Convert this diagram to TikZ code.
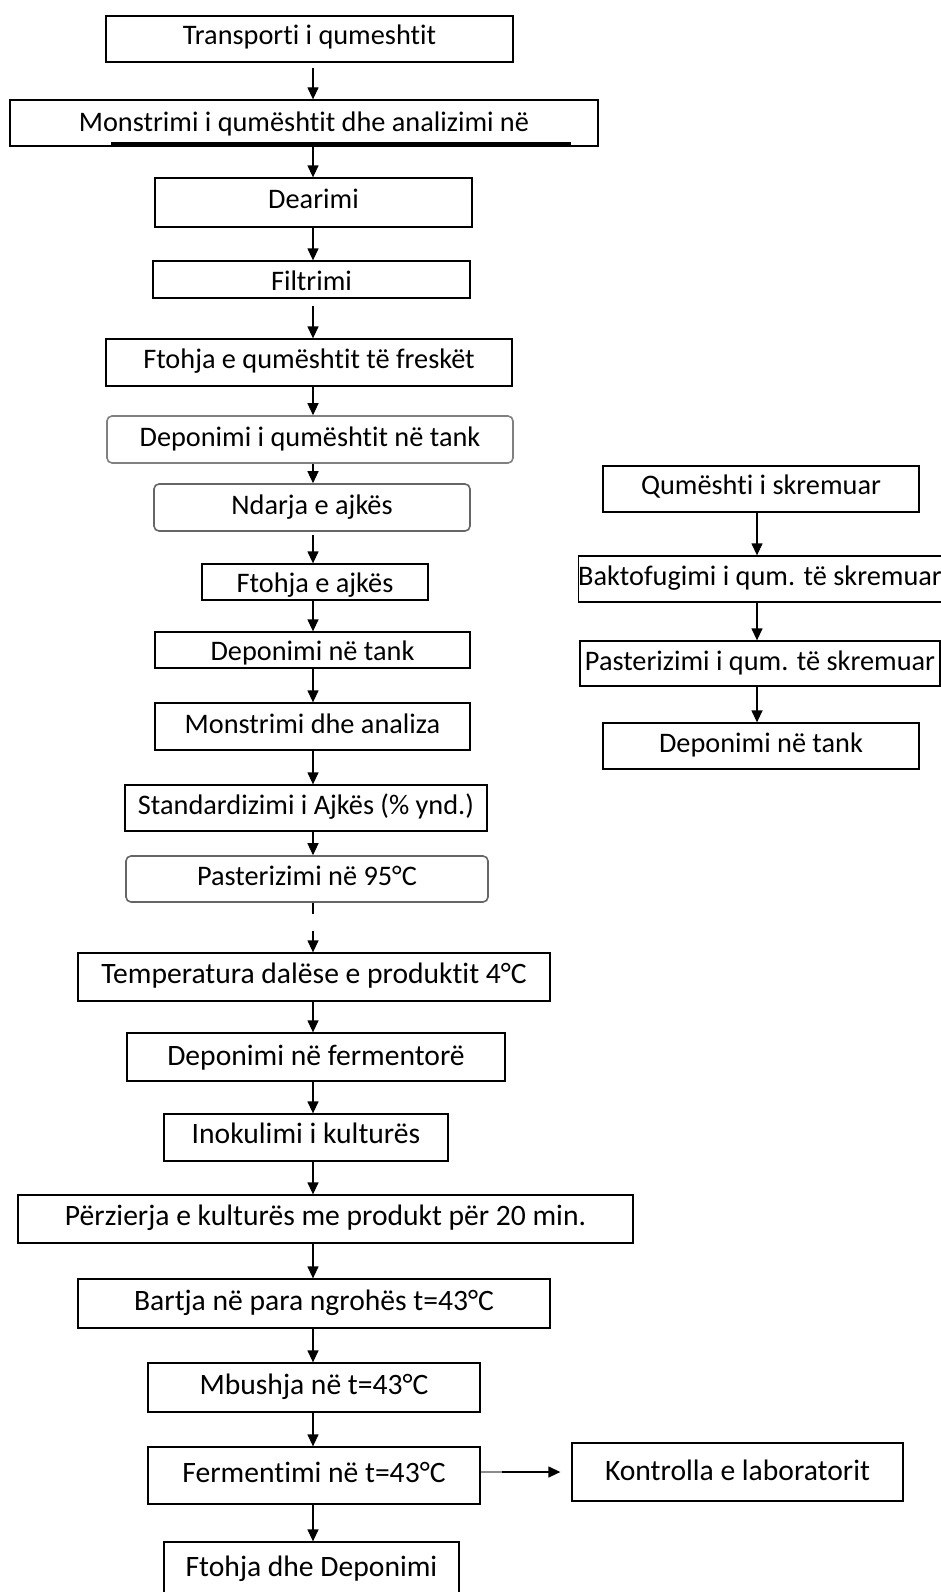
\documentclass[tikz,border=0pt]{standalone}
\usepackage{fontspec}
\setmainfont{Carlito}[Ligatures=NoCommon]
\usetikzlibrary{arrows.meta}

\begin{document}
\begin{tikzpicture}[x=1pt, y=-1pt, font=\fontsize{28.3}{31}\selectfont]

        % Setup the style for the boxes
        \tikzset{box style/.style={rectangle,
                                   draw=black,
                                   line width=1.3pt,
                                   inner sep=0pt,
                                   text height=19pt,
                                   text depth=6pt},
                 round style/.style={box style,
                                     rounded corners=5pt,
                                     line width=1.6pt,
                                     draw=black!60},
                 low style/.style={box style,
                                   font=\fontsize{29.6}{32}\selectfont}}

        \path[use as bounding box, fill=white] (0, 0) rectangle (941, 1592);
        \clip (0, 0) rectangle (941, 1592);

        % Axes of the two columns
        \coordinate (m) at (313, 0);
        \coordinate (s) at (757, 0);

        % Draw the boxes of the main line
        \node[box style, minimum width=407pt, minimum height=46pt, text height=17pt] at (309.5, 39) (A) {Transporti i qumeshtit};
        \node[box style, minimum width=588pt, minimum height=46pt, text height=23pt] at (304, 123) (B) {Monstrimi i qumështit dhe analizimi në};
        \node[box style, minimum width=317pt, minimum height=49pt, text height=17pt] at (313.5, 202.5) (C) {Dearimi};
        \node[box style, minimum width=317pt, minimum height=37pt, text height=27pt] at (311.5, 279.5) (D) {Filtrimi};
        \node[box style, minimum width=406pt, minimum height=47pt, text height=17pt] at (309, 362.5) (E) {Ftohja e qumështit të freskët};
        \node[round style, minimum width=406pt, minimum height=47pt, draw=black!50] at (310, 439.5) (F) {Deponimi i qumështit në tank};
        \node[round style, minimum width=316pt, minimum height=47pt] at (312, 507.5) (G) {Ndarja e ajkës};
        \node[box style, minimum width=226pt, minimum height=36pt, text height=27pt] at (315, 582) (H) {Ftohja e ajkës};
        \node[box style, minimum width=315pt, minimum height=36pt, text height=27pt] at (312.5, 650) (I) {Deponimi në tank};
        \node[box style, minimum width=315pt, minimum height=47pt] at (312.5, 726.5) (J) {Monstrimi dhe analiza};
        \node[box style, minimum width=362pt, minimum height=46pt] at (306, 808) (K) {Standardizimi i Ajkës (\% ynd.)};
        \node[round style, minimum width=362pt, minimum height=46pt] at (307, 879) (L) {Pasterizimi në 95°C};
        \node[low style, minimum width=472pt, minimum height=48pt] at (314, 977) (M) {Temperatura dalëse e produktit 4°C};
        \node[low style, minimum width=378pt, minimum height=48pt, text height=23pt] at (316, 1057) (N) {Deponimi në fermentorë};
        \node[low style, minimum width=284pt, minimum height=47pt, text height=17pt] at (306, 1137.5) (O) {Inokulimi i kulturës};
        \node[low style, minimum width=615pt, minimum height=48pt] at (325.5, 1219) (P) {Përzierja e kulturës me produkt për 20 min.};
        \node[low style, minimum width=472pt, minimum height=49pt] at (314, 1303.5) (Q) {Bartja në para ngrohës t=43°C};
        \node[low style, minimum width=332pt, minimum height=49pt] at (314, 1387.5) (R) {Mbushja në t=43°C};
        \node[low style, minimum width=332pt, minimum height=57pt] at (314, 1475.5) (S) {Fermentimi në t=43°C};
        \node[low style, minimum width=295pt, minimum height=58pt, text height=16pt] at (311.5, 1571) (T) {Ftohja dhe Deponimi};
        \node[low style, minimum width=331pt, minimum height=58pt, text height=23pt] at (737.5, 1472) (Z) {Kontrolla e laboratorit};

        % Draw the boxes of the skimmed milk
        \node[box style, minimum width=316pt, minimum height=46pt, text height=17pt] at (761, 489) (V) {Qumështi i skremuar};
        \node[box style, minimum width=360pt, minimum height=46pt] at (760, 579) (W) {Baktofugimi i qum. të skremuar};
        \node[box style, minimum width=360pt, minimum height=45pt] at (760, 663.5) (X) {Pasterizimi i qum. të skremuar};
        \node[box style, minimum width=316pt, minimum height=46pt] at (761, 746) (Y) {Deponimi në tank};

        % Line left under the text of B
        \draw[line width=3pt] (111, 143) -- (571, 143);

        % Connect the boxes with arrows
        \draw[line width=1.3pt,
              >={Triangle[length=12pt, width=11pt]},
              draw=black,
              every edge/.append style={->}]
            (A.south -| m) edge[shorten <=5pt] (B.north -| m)
            (B.south -| m) edge (C.north -| m)
            (C.south -| m) edge (D.north -| m)
            (D.south -| m) edge[shorten <=7pt] (E.north -| m)
            (E.south -| m) edge (F.north -| m)
            (F.south -| m) edge (G.north -| m)
            (G.south -| m) edge[shorten <=3pt] (H.north -| m)
            (H.south -| m) edge (I.north -| m)
            (I.south -| m) edge (J.north -| m)
            (J.south -| m) edge (K.north -| m)
            (K.south -| m) edge (L.north -| m)
            (L.south -| m) edge[shorten <=28pt] (M.north -| m)
            (M.south -| m) edge (N.north -| m)
            (N.south -| m) edge (O.north -| m)
            (O.south -| m) edge (P.north -| m)
            (P.south -| m) edge (Q.north -| m)
            (Q.south -| m) edge (R.north -| m)
            (R.south -| m) edge (S.north -| m)
            (S.south -| m) edge (T.north -| m)
            (S.east |- Z.west) edge[shorten >=11pt] (Z.west)
            (V.south -| s) edge (W.north -| s)
            (W.south -| s) edge (X.north -| s)
            (X.south -| s) edge (Y.north -| s);

        % Short piece below L and grey start of the side arrow
        \draw[line width=1.3pt] (L.south -| m) -- ++(0, 11);
        \draw[line width=2.5pt, black!45] (S.east |- Z.west) -- ++(21, 0);
\end{tikzpicture}
\end{document}
